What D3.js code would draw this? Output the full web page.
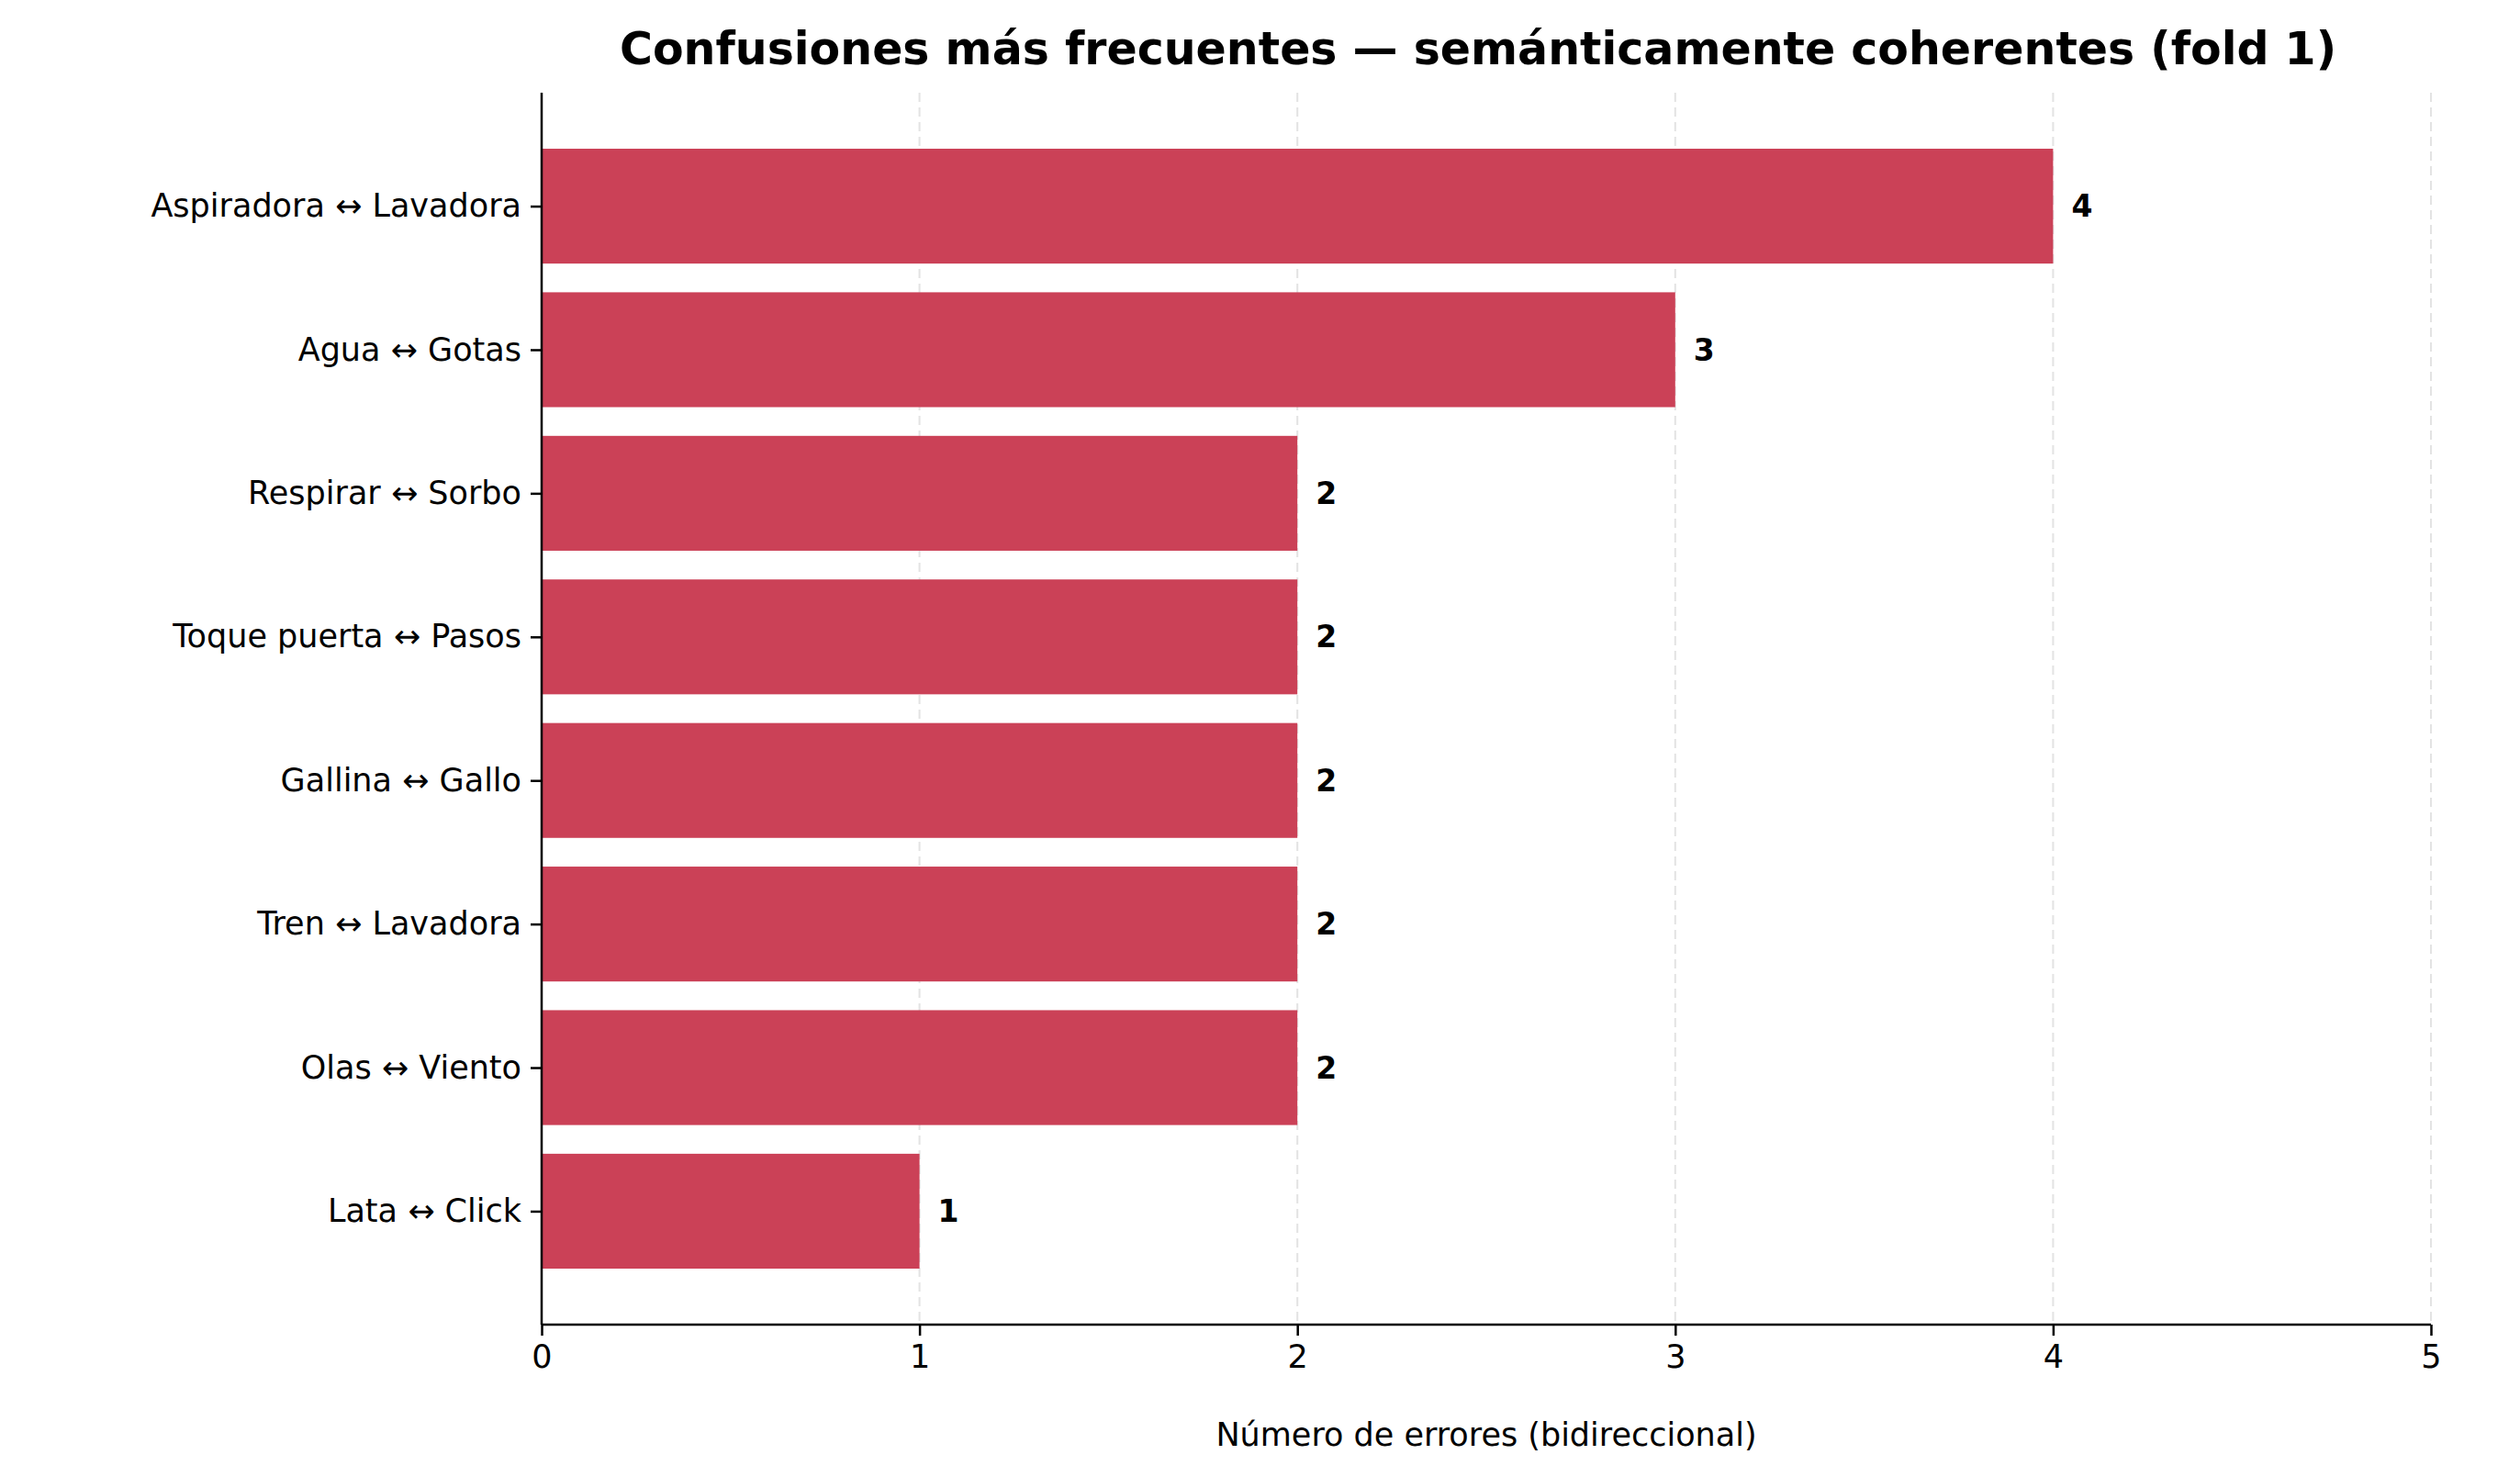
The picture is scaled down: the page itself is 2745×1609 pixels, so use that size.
<!DOCTYPE html><html><head><meta charset="utf-8"><script src="https://cdn.jsdelivr.net/npm/d3@7"></script>
<style>body{margin:0;background:#fff}text{font-family:"DejaVu Sans",sans-serif}</style></head><body><svg id="c" width="2745" height="1609"></svg>
<script>
const categories=["Aspiradora ↔ Lavadora","Agua ↔ Gotas","Respirar ↔ Sorbo","Toque puerta ↔ Pasos","Gallina ↔ Gallo","Tren ↔ Lavadora","Olas ↔ Viento","Lata ↔ Click"];
const values=[4,3,2,2,2,2,2,1];
const xTicks=[0,1,2,3,4,5];
const svg=d3.select("#c");
const L=590,R=2648,T=101,B=1443;
const x=d3.scaleLinear().domain([0,5]).range([L,R]);
const y=d3.scaleLinear().domain([-0.79,7.79]).range([T,B]);
svg.append("g").selectAll("line").data(xTicks).join("line").attr("x1",d=>x(d)).attr("x2",d=>x(d)).attr("y1",T).attr("y2",B).attr("stroke","#ddd").attr("stroke-width",2).attr("stroke-dasharray","10,6").attr("opacity",0.8);
svg.append("g").selectAll("rect").data(values).join("rect").attr("x",x(0)).attr("y",(d,i)=>y(i-0.4)).attr("width",d=>x(d)-x(0)).attr("height",y(0.8)-y(0)).attr("fill","#cb4157");
svg.append("g").selectAll("text").data(values).join("text").attr("x",d=>x(d)+20).attr("y",(d,i)=>y(i)).attr("dy","0.35em").attr("font-size",33).attr("font-weight","bold").text(d=>d);
const xa=svg.append("g").attr("transform",`translate(0,${B})`).call(d3.axisBottom(x).tickValues(xTicks).tickFormat(d3.format("d")).tickSize(12).tickPadding(10));
xa.selectAll("text").attr("font-size",35).attr("fill","#000");
xa.selectAll("line,path").attr("stroke","#000").attr("stroke-width",2.5);
xa.select(".domain").attr("d",`M${L},0H${R}`);
const ya=svg.append("g").attr("transform",`translate(${L},0)`).call(d3.axisLeft(y).tickValues(d3.range(categories.length)).tickFormat(i=>categories[i]).tickSize(12).tickPadding(10));
ya.selectAll("text").attr("font-size",35).attr("fill","#000");
ya.selectAll("line,path").attr("stroke","#000").attr("stroke-width",2.5);
ya.select(".domain").attr("d",`M0,${T}V${B}`);
svg.append("text").attr("x",(L+R)/2).attr("y",1575).attr("text-anchor","middle").attr("font-size",35).text("Número de errores (bidireccional)");
svg.append("text").attr("x",1610).attr("y",70).attr("text-anchor","middle").attr("font-size",49).attr("font-weight","bold").text("Confusiones más frecuentes — semánticamente coherentes (fold 1)");
</script></body></html>
